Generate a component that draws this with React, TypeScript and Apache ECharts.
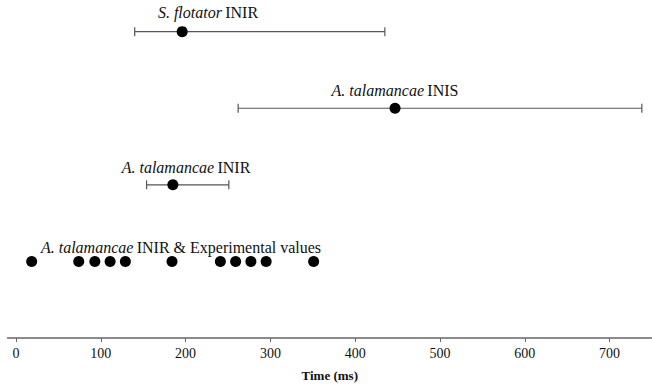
import React, { useEffect, useRef } from "react";
import * as echarts from "echarts";

// Row labels (italic species name + normal tag) and their vertical levels
const rowSpecies = ["S. flotator", "A. talamancae", "A. talamancae", "A. talamancae"];
const rowTags = ["INIR", "INIS", "INIR", "INIR & Experimental values"];
const rowLevels = [4, 3, 2, 1];

// Interval rows (low, point estimate, high) in ms
const lows = [140, 262, 154];
const mids = [196, 447, 185];
const highs = [435, 738, 251];

// Experimental values (ms), plotted on row level 1
const experimental = [18.5, 74, 93, 111, 129, 184, 241, 259, 277, 295, 351];

// X-axis ticks
const tickValues = [0, 100, 200, 300, 400, 500, 600, 700];

// label text positions (layout only)
const labelPos: [number, number][] = [
  [208, 12],
  [395, 90],
  [186, 167],
  [181, 247],
];

export default function App() {
  const ref = useRef<HTMLDivElement>(null);
  useEffect(() => {
    if (!ref.current) return;
    const chart = echarts.init(ref.current, undefined, { renderer: "svg" });
    const font = "'Times New Roman', 'Liberation Serif', 'DejaVu Serif', serif";
    const barData = lows.map((l, i) => [l, highs[i], rowLevels[i]]);
    const midData = mids.map((m, i) => [m, rowLevels[i]]);
    const expData = experimental.map((v) => [v, rowLevels[3]]);

    chart.setOption({
      animation: false,
      backgroundColor: "#fff",
      textStyle: { fontFamily: font },
      grid: { left: 7.5, right: 0, top: 1, bottom: 48, containLabel: false },
      xAxis: {
        type: "value",
        min: -10,
        max: 750,
        axisLine: { show: true, lineStyle: { color: "#666", width: 1.5 } },
        axisTick: {
          show: true,
          customValues: tickValues,
          length: 4,
          lineStyle: { color: "#666", width: 1 },
        },
        axisLabel: {
          customValues: tickValues,
          color: "#111",
          fontFamily: font,
          fontSize: 14,
          margin: 8,
        },
        splitLine: { show: false },
        name: "Time (ms)",
        nameLocation: "middle",
        nameGap: 31,
        nameTextStyle: {
          fontFamily: font,
          fontWeight: "bold",
          fontSize: 13,
          color: "#111",
        },
      },
      yAxis: {
        type: "value",
        min: 0,
        max: 4.4,
        show: false,
      },
      series: [
        {
          type: "custom",
          data: barData,
          encode: { x: [0, 1], y: 2 },
          renderItem: (params: any, api: any) => {
            const lo = api.coord([api.value(0), api.value(2)]);
            const hi = api.coord([api.value(1), api.value(2)]);
            const h = 4.5;
            const style = { stroke: "#555", lineWidth: 1.2 };
            return {
              type: "group",
              children: [
                { type: "line", shape: { x1: lo[0], y1: lo[1], x2: hi[0], y2: hi[1] }, style },
                { type: "line", shape: { x1: lo[0], y1: lo[1] - h, x2: lo[0], y2: lo[1] + h }, style },
                { type: "line", shape: { x1: hi[0], y1: hi[1] - h, x2: hi[0], y2: hi[1] + h }, style },
              ],
            };
          },
          z: 2,
        },
        {
          type: "scatter",
          data: midData,
          symbol: "circle",
          symbolSize: 11,
          itemStyle: { color: "#000", opacity: 1 },
          z: 3,
        },
        {
          type: "scatter",
          data: expData,
          symbol: "circle",
          symbolSize: 11,
          itemStyle: { color: "#000", opacity: 1 },
          z: 3,
        },
      ],
      graphic: rowSpecies.map((sp, i) => ({
        type: "text",
        x: labelPos[i][0],
        y: labelPos[i][1],
        style: {
          text: `{i|${sp}} {n|${rowTags[i]}}`,
          align: "center",
          verticalAlign: "middle",
          rich: {
            i: { fontFamily: font, fontStyle: "italic", fontSize: 16, fill: "#111" },
            n: { fontFamily: font, fontSize: 16, fill: "#111" },
          },
        },
      })),
    });
    return () => chart.dispose();
  }, []);
  return (
    <div
      ref={ref}
      style={{ position: "fixed", left: 0, top: 0, width: 652, height: 387 }}
    />
  );
}
